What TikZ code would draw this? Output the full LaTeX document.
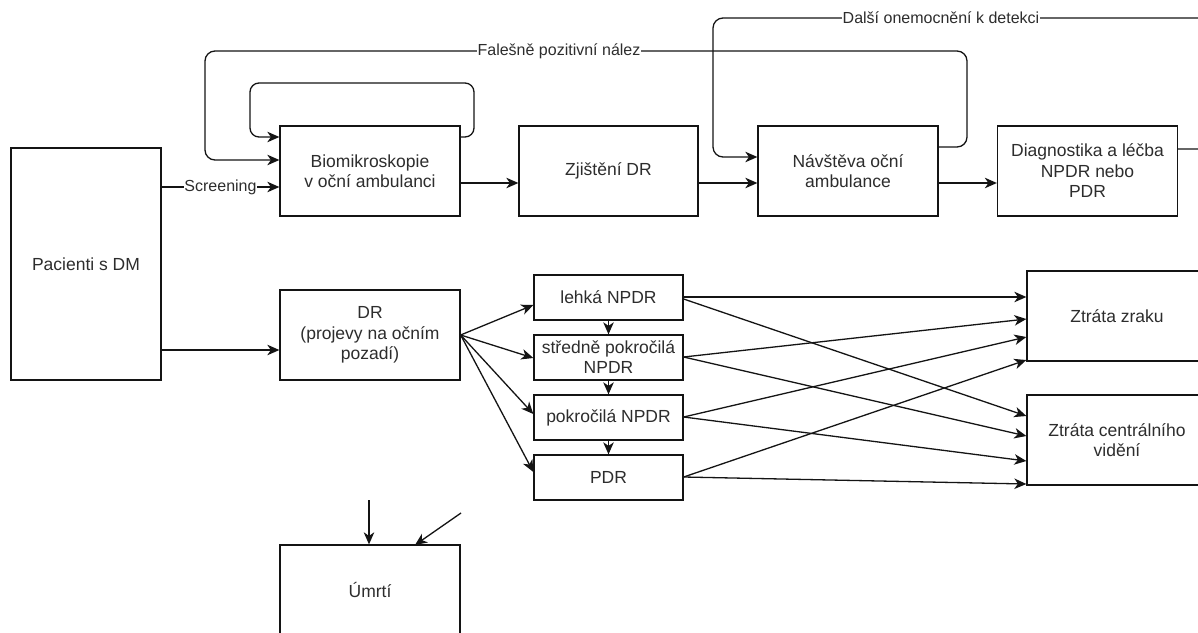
\documentclass[tikz,border=0pt]{standalone}
\usepackage{fontspec}
\setmainfont{Liberation Sans}
\usetikzlibrary{arrows.meta,calc}
\definecolor{txt}{RGB}{45,45,45}
\definecolor{ln}{RGB}{20,20,20}
\tikzset{
  box/.style={draw=ln, line width=1.3pt, rectangle, align=center, text=txt,
    font=\fontsize{17.5}{20.5}\selectfont, inner sep=1pt},
  arr/.style={draw=ln, line width=1.3pt, -{Stealth[length=12pt,width=10.5pt,inset=3.5pt]}},
  lbl/.style={fill=white, text=txt, font=\fontsize{16}{18}\selectfont, inner sep=0.5pt}
}
\begin{document}
\begin{tikzpicture}[x=1pt,y=-1pt]
\clip (0,0) rectangle (1198,632);
\fill[white] (0,0) rectangle (1198,632);
% boxes
\node[box, minimum width=150, minimum height=232] (pac) at (86,264) {Pacienti s DM};
\node[box, minimum width=180, minimum height=90] (bio) at (370,171) {Biomikroskopie\\v oční ambulanci};
\node[box, minimum width=179, minimum height=90] (zj) at (608.5,171) {Zjištění DR};
\node[box, minimum width=180, minimum height=90] (nav) at (848,171) {Návštěva oční\\ambulance};
\node[box, minimum width=180, minimum height=90] (diag) at (1087.5,171) {Diagnostika a léčba\\NPDR nebo\\PDR};
\node[box, minimum width=180, minimum height=90] (dr) at (370,335) {DR\\(projevy na očním\\pozadí)};
\node[box, minimum width=149, minimum height=45] (leh) at (608.5,297.5) {lehká NPDR};
\node[box, minimum width=149, minimum height=45, inner sep=0pt, font=\fontsize{17.5}{20}\selectfont] (str) at (608.5,357.5) {středně pokročilá\\NPDR};
\node[box, minimum width=149, minimum height=45] (pok) at (608.5,417.5) {pokročilá NPDR};
\node[box, minimum width=149, minimum height=45] (pdr) at (608.5,477.5) {PDR};
\node[box, minimum width=180, minimum height=90] (ztz) at (1117,316) {Ztráta zraku};
\node[box, minimum width=180, minimum height=90] (ztc) at (1117,440) {Ztráta centrálního\\vidění};
\node[box, minimum width=180, minimum height=90] (umr) at (370,590) {Úmrtí};

% top row
\draw[arr] (pac.east |- 0,187) -- node[lbl] (lscr) {Screening} (bio.west |- 0,187);
\draw[arr] (bio.east |- 0,183) -- (zj.west |- 0,183);
\draw[arr] (zj.east |- 0,183) -- (nav.west |- 0,183);
\draw[arr] (nav.east |- 0,183) -- (diag.west |- 0,183);
% self loop
\draw[arr, rounded corners=9] (bio.east |- 0,137) -- (474,137) -- (474,83) -- (250,83) -- (250,137) -- (bio.west |- 0,137);
% false positive loop
\draw[arr, rounded corners=10] (nav.east |- 0,147) -- (967,147) -- (967,51) -- (205,51) -- (205,160) -- (bio.west |- 0,160);
\node[lbl] (lfal) at (559,51) {Falešně pozitivní nález};
% further disease loop
\draw[arr, rounded corners=10] (diag.east |- 0,149) -- (1215,149) -- (1215,18) -- (713,18) -- (713,157) -- (nav.west |- 0,157);
\node[lbl] (ldal) at (941,18) {Další onemocnění k detekci};

% lower part
\draw[arr] (pac.east |- 0,350) -- (dr.west |- 0,350);
\coordinate (drout) at (dr.east |- 0,335);
\draw[arr] (drout) -- (leh.west |- 0,305);
\draw[arr] (drout) -- (str.west |- 0,358);
\draw[arr] (drout) -- (pok.west |- 0,414);
\draw[arr] (drout) -- (pdr.west |- 0,472);
\draw[arr] (leh.south) -- (str.north);
\draw[arr] (str.south) -- (pok.north);
\draw[arr] (pok.south) -- (pdr.north);

\draw[arr] (leh.east |- 0,297) -- (ztz.west |- 0,297);
\draw[arr] (leh.east |- 0,299) -- (ztc.west |- 0,416);
\draw[arr] (str.east |- 0,357) -- (ztz.west |- 0,319);
\draw[arr] (str.east |- 0,357) -- (ztc.west |- 0,436);
\draw[arr] (pok.east |- 0,417) -- (ztz.west |- 0,337);
\draw[arr] (pok.east |- 0,417) -- (ztc.west |- 0,461);
\draw[arr] (pdr.east |- 0,477) -- (ztz.west |- 0,360);
\draw[arr] (pdr.east |- 0,477) -- (ztc.west |- 0,484);

% death
\coordinate (u1) at (369,500);
\coordinate (u2) at (461,513);
\draw[arr] (u1) -- (u1 |- umr.north);
\draw[arr] (u2) -- (415,545);
\end{tikzpicture}
\end{document}
